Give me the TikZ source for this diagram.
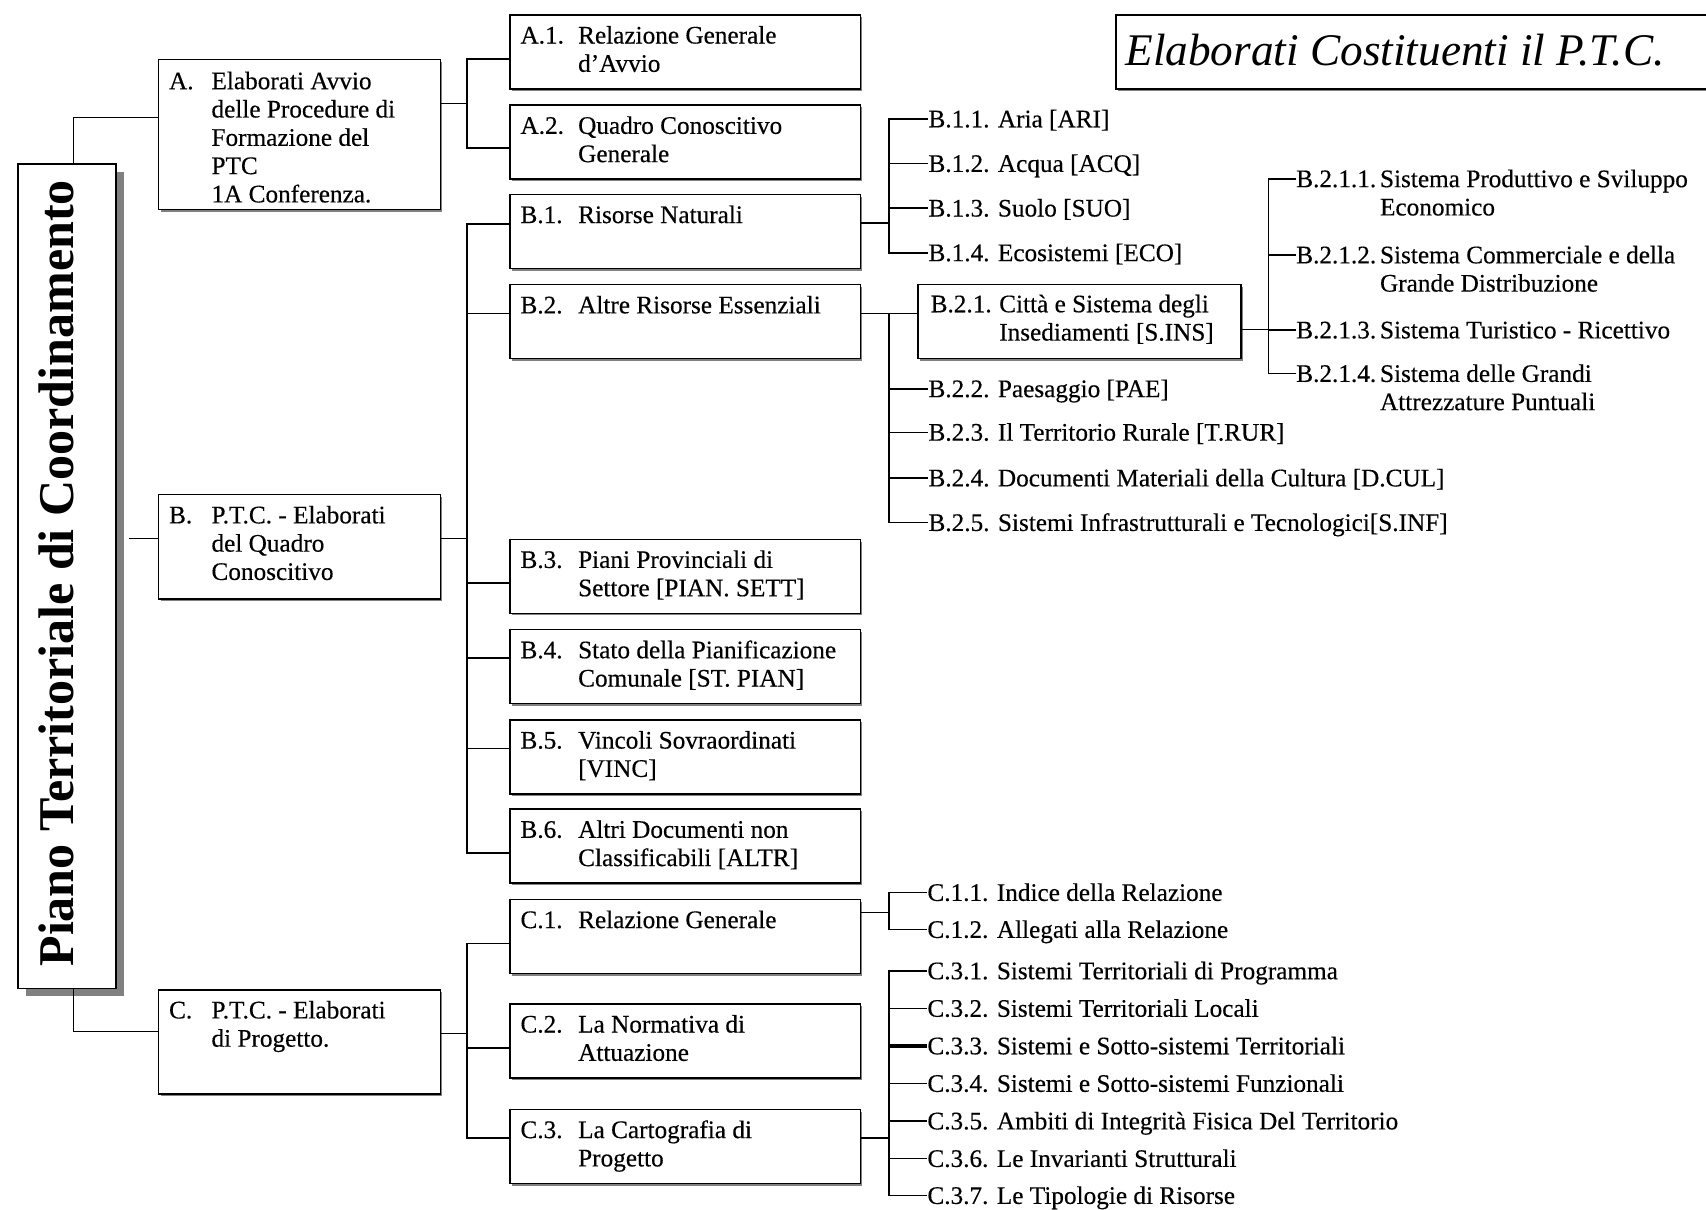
\documentclass[tikz,border=0pt]{standalone}
\usepackage{fontspec}
\setmainfont{Liberation Serif}
\newfontfamily\bodyfont{Liberation Serif}[Ligatures=TeX, FakeBold=0.35]
\usetikzlibrary{shadows,calc}
\newlength\px \setlength\px{0.5pt}
\newcommand\lbl[3]{\begin{tabular}[t]{@{}p{#1}@{}l@{}}#2&#3\end{tabular}}
\tikzset{
  frame/.style={draw, line width=0.7pt, fill=white, inner sep=0pt, anchor=north west},
  sbox/.style={frame, drop shadow={shadow xshift=1pt, shadow yshift=-1pt, opacity=1, fill=black!50}},
  rbox/.style={frame, drop shadow={shadow xshift=3.5pt, shadow yshift=-3.5pt, opacity=1, fill=black!50}},
  btxt/.style={anchor=base west, inner sep=0pt, font=\bodyfont\fontsize{11.6}{13}\selectfont},
  leaf/.style={anchor=base west, inner sep=0pt, font=\bodyfont\fontsize{11.6}{13}\selectfont},
  conn/.style={line width=0.7pt},
  thickconn/.style={line width=1.5pt},
}
\begin{document}
\begin{tikzpicture}[x=0.5pt,y=-0.5pt]
\path[use as bounding box, fill=white] (0,0) rectangle (1568,1112);

% ---------- boxes ----------
\node[rbox, minimum width=90\px, minimum height=758\px] (root) at (16,150) {};
\node[rotate=90, anchor=base, inner sep=0pt, font=\fontsize{23}{27}\selectfont\bfseries] (roottxt) at (68,527) {Piano Territoriale di Coordinamento};

\node[sbox, minimum width=560\px, minimum height=68\px] (title) at (1025,13) {};
\node[anchor=base west, inner sep=0pt, font=\fontsize{20.8}{24}\selectfont\itshape] (titletxt) at (1034,60) {Elaborati Costituenti il P.T.C.};

\node[sbox, minimum width=259\px, minimum height=138\px] (bA) at (145,54) {};
\node[sbox, minimum width=259\px, minimum height=96\px] (bB) at (145,454) {};
\node[sbox, minimum width=259\px, minimum height=96\px] (bC) at (145,909) {};

\foreach \n/\y in {a1/13,a2/96,b1/178,b2/261,b3/495,b4/578,b5/661,b6/743,c1/826,c2/922,c3/1019}
  \node[sbox, minimum width=322\px, minimum height=68\px] (\n) at (468,\y) {};
\node[sbox, minimum width=297\px, minimum height=68\px] (b21) at (843,261) {};

% ---------- box texts ----------
\node[btxt] (bAt) at ($(bA.north west)+(10,28)$) {\lbl{39\px}{A.}{Elaborati Avvio\\&delle Procedure di\\&Formazione del\\&PTC\\&1A Conferenza.}};
\node[btxt] (bBt) at ($(bB.north west)+(10,27)$) {\lbl{39\px}{B.}{P.T.C. - Elaborati\\&del Quadro\\&Conoscitivo}};
\node[btxt] (bCt) at ($(bC.north west)+(10,27)$) {\lbl{39\px}{C.}{P.T.C. - Elaborati\\&di Progetto.}};

\node[btxt] (a1t) at ($(a1.north west)+(10,27)$) {\lbl{53\px}{A.1.}{Relazione Generale\\&d’Avvio}};
\node[btxt] (a2t) at ($(a2.north west)+(10,27)$) {\lbl{53\px}{A.2.}{Quadro Conoscitivo\\&Generale}};
\node[btxt] (b1t) at ($(b1.north west)+(10,27)$) {\lbl{53\px}{B.1.}{Risorse Naturali}};
\node[btxt] (b2t) at ($(b2.north west)+(10,27)$) {\lbl{53\px}{B.2.}{Altre Risorse Essenziali}};
\node[btxt] (b3t) at ($(b3.north west)+(10,27)$) {\lbl{53\px}{B.3.}{Piani Provinciali di\\&Settore [PIAN. SETT]}};
\node[btxt] (b4t) at ($(b4.north west)+(10,27)$) {\lbl{53\px}{B.4.}{Stato della Pianificazione\\&Comunale [ST. PIAN]}};
\node[btxt] (b5t) at ($(b5.north west)+(10,27)$) {\lbl{53\px}{B.5.}{Vincoli Sovraordinati\\&{[VINC]}}};
\node[btxt] (b6t) at ($(b6.north west)+(10,27)$) {\lbl{53\px}{B.6.}{Altri Documenti non\\&Classificabili [ALTR]}};
\node[btxt] (c1t) at ($(c1.north west)+(10,27)$) {\lbl{53\px}{C.1.}{Relazione Generale}};
\node[btxt] (c2t) at ($(c2.north west)+(10,27)$) {\lbl{53\px}{C.2.}{La Normativa di\\&Attuazione}};
\node[btxt] (c3t) at ($(c3.north west)+(10,27)$) {\lbl{53\px}{C.3.}{La Cartografia di\\&Progetto}};
\node[btxt] (b21t) at ($(b21.north west)+(12,26)$) {\lbl{63\px}{B.2.1.}{Città e Sistema degli\\&Insediamenti [S.INS]}};

% ---------- leaf texts ----------
\node[leaf] (b11) at (853,117) {B.1.1. Aria [ARI]};
\node[leaf] (b12) at (853,158) {B.1.2. Acqua [ACQ]};
\node[leaf] (b13) at (853,199) {B.1.3. Suolo [SUO]};
\node[leaf] (b14) at (853,240) {B.1.4. Ecosistemi [ECO]};
\node[leaf] (b22) at (853,365) {B.2.2. Paesaggio [PAE]};
\node[leaf] (b23) at (853,405) {B.2.3. Il Territorio Rurale [T.RUR]};
\node[leaf] (b24) at (853,447) {B.2.4. Documenti Materiali della Cultura [D.CUL]};
\node[leaf] (b25) at (853,488) {B.2.5. Sistemi Infrastrutturali e Tecnologici[S.INF]};

\node[leaf] (b211) at (1191,172) {\lbl{77\px}{B.2.1.1.}{Sistema Produttivo e Sviluppo\\&Economico}};
\node[leaf] (b212) at (1191,242) {\lbl{77\px}{B.2.1.2.}{Sistema Commerciale e della\\&Grande Distribuzione}};
\node[leaf] (b213) at (1191,311) {\lbl{77\px}{B.2.1.3.}{Sistema Turistico - Ricettivo}};
\node[leaf] (b214) at (1191,351) {\lbl{77\px}{B.2.1.4.}{Sistema delle Grandi\\&Attrezzature Puntuali}};

\node[leaf] (c11) at (852,828) {C.1.1. Indice della Relazione};
\node[leaf] (c12) at (852,862) {C.1.2. Allegati alla Relazione};
\node[leaf] (c31) at (852,900) {C.3.1. Sistemi Territoriali di Programma};
\node[leaf] (c32) at (852,934.5) {C.3.2. Sistemi Territoriali Locali};
\node[leaf] (c33) at (852,969) {C.3.3. Sistemi e Sotto-sistemi Territoriali};
\node[leaf] (c34) at (852,1003.5) {C.3.4. Sistemi e Sotto-sistemi Funzionali};
\node[leaf] (c35) at (852,1038) {C.3.5. Ambiti di Integrità Fisica Del Territorio};
\node[leaf] (c36) at (852,1072.5) {C.3.6. Le Invarianti Strutturali};
\node[leaf] (c37) at (852,1106.5) {C.3.7. Le Tipologie di Risorse};

% ---------- connectors ----------
% root
\draw[conn] ([xshift=3pt]root.north) |- ($(bA.north west)+(0,54)$);
\draw[conn] ([xshift=3pt]root.south) |- ($(bC.north west)+(0,39)$);
\coordinate (rB) at ($(bB.north west)+(-26,41)$);
\draw[conn] (rB) -- ($(bB.north west)+(0,41)$);

% A
\coordinate (jA) at (429,95);
\draw[conn] ($(bA.north east)+(0,41)$) -- (jA);
\draw[conn] (jA) |- ($(a1.north west)+(0,41)$);
\draw[conn] (jA) |- ($(a2.north west)+(0,40)$);

% B
\coordinate (jB) at (429,495);
\draw[conn] ($(bB.north east)+(0,41)$) -- (jB);
\draw[conn] (jB) |- ($(b1.north west)+(0,28)$);
\draw[conn] (jB) |- ($(b2.north west)+(0,27)$);
\draw[conn] (jB) |- ($(b3.north west)+(0,41)$);
\draw[conn] (jB) |- ($(b4.north west)+(0,27)$);
\draw[conn] (jB) |- ($(b5.north west)+(0,27)$);
\draw[conn] (jB) |- ($(b6.north west)+(0,41)$);

% C
\coordinate (jC) at (429,950);
\draw[conn] ($(bC.north east)+(0,41)$) -- (jC);
\draw[conn] (jC) |- ($(c1.north west)+(0,41)$);
\draw[conn] (jC) |- ($(c2.north west)+(0,41)$);
\draw[conn] (jC) |- ($(c3.north west)+(0,27)$);

% B.1
\coordinate (jB1) at (817,205);
\draw[conn] ($(b1.north east)+(0,27)$) -- (jB1);
\foreach \n in {b11,b12,b13,b14}
  \draw[conn] (jB1) |- ([yshift=3.8pt]\n.base west);

% B.2
\coordinate (jB2) at (817,288);
\draw[conn] ($(b2.north east)+(0,27)$) -- ($(b21.north west)+(0,27)$);
\foreach \n in {b22,b23,b24,b25}
  \draw[conn] (jB2) |- ([yshift=3.8pt]\n.base west);

% B.2.1
\coordinate (jB21) at (1166,303);
\draw[conn] ($(b21.north east)+(0,42)$) -- (jB21);
\foreach \n in {b211,b212,b213,b214}
  \draw[conn] (jB21) |- ([yshift=3.8pt]\n.base west);

% C.1
\coordinate (jC1) at (817,838.5);
\draw[conn] ($(c1.north east)+(0,12.5)$) -- (jC1);
\foreach \n in {c11,c12}
  \draw[conn] (jC1) |- ([yshift=3.8pt]\n.base west);

% C.3
\coordinate (jC3) at (817,1046);
\draw[conn] ($(c3.north east)+(0,27)$) -- (jC3);
\foreach \n in {c31,c32,c34,c35,c36,c37}
  \draw[conn] (jC3) |- ([yshift=3.8pt]\n.base west);
\draw[conn] (jC3) |- ([yshift=3.8pt]c33.base west);
\draw[thickconn] ($(jC3 |- c33.base west)+(0,-7.6)$) -- ([yshift=3.8pt]c33.base west);
\end{tikzpicture}
\end{document}
